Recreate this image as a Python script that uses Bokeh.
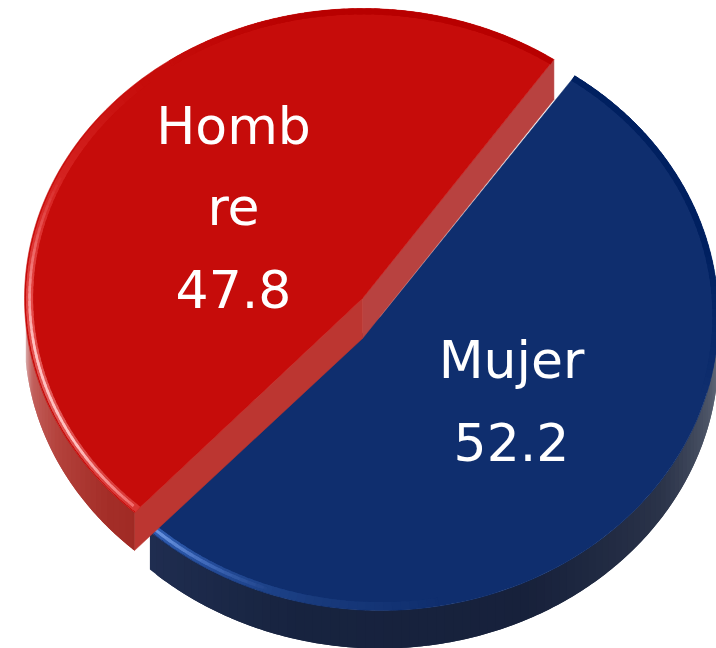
import numpy as np
from bokeh.plotting import figure
from bokeh.models import Range1d
from bokeh.embed import file_html
from bokeh.resources import INLINE
from bokeh.core.properties import value

categories = ["Hombre", "Mujer"]
shares = [47.8, 52.2]
label_lines = [["Homb", "re", "47.8"], ["Mujer", "52.2"]]

RED, BLUE = "#c60c0a", "#0f2e6e"
W, H = 716, 648
p = figure(width=W, height=H, x_range=Range1d(0, W), y_range=Range1d(H, 0),
           toolbar_location=None, output_backend="svg", min_border=0)
p.axis.visible = False
p.grid.visible = False
p.outline_line_color = None

# slice geometry (elliptic, tilted pie)
red_c = (362.0, 298.0)
blue_c = (380.0, 316.0)
RX, RY_R, RY_B = 338.0, 290.0, 294.0
DEPTH = 38.0
start = 55.5
red_t0, red_t1 = start, start + shares[0] * 3.6
blue_t0, blue_t1 = red_t1 - 0.6, red_t1 - 0.6 + shares[1] * 3.6


def arc(c, ry, t0, t1, n=120, k=1.0, dy=0.0):
    t = np.radians(np.linspace(t0, t1, n))
    return c[0] + k * RX * np.cos(t), c[1] - k * ry * np.sin(t) + dy


def mix(stops, t):
    ts = [s[0] for s in stops]
    rgb = [np.interp(t, ts, [int(s[1][i:i + 2], 16) for s in stops]) for i in (1, 3, 5)]
    return "#%02x%02x%02x" % tuple(int(round(v)) for v in rgb)


def side(c, ry, t0, t1, stops, step=1.5):
    xs, ys, cols = [], [], []
    for a in np.arange(t0, t1, step):
        b = min(a + step + 1.5, t1)
        x, y = arc(c, ry, a, b, 6)
        xs.append(list(x) + list(x[::-1]))
        ys.append(list(y) + list((y + DEPTH)[::-1]))
        cols.append(mix(stops, a))
    p.patches(xs, ys, fill_color=cols, line_color=None)


def rim(c, ry, t0, t1, stops, k, width, step=1.5):
    xs, ys, cols = [], [], []
    for a in np.arange(t0, t1, step):
        b = min(a + step + 1.0, t1)
        x, y = arc(c, ry, a, b, 4, k=k)
        xs.append(list(x))
        ys.append(list(y))
        cols.append(mix(stops, a))
    p.multi_line(xs, ys, line_color=cols, line_width=width)


# ---- blue slice
side(blue_c, RY_B, blue_t0, 362.0,
     [(blue_t0, "#1f2d50"), (255, "#17233f"), (295, "#17213b"), (325, "#2a3349"),
      (345, "#4d5567"), (362, "#7a808c")])
x, y = arc(blue_c, RY_B, blue_t0, blue_t1)
p.patch(list(x) + [blue_c[0]], list(y) + [blue_c[1]], fill_color=BLUE, line_color=BLUE, line_width=0.5)
rim(blue_c, RY_B, 345.0, blue_t1, [(345, "#0f2e6e"), (372, "#002060"), (blue_t1, "#002060")], 0.991, 6)
rim(blue_c, RY_B, blue_t0, 280.0, [(blue_t0, "#2f5cb0"), (240, "#234a96"), (258, "#183a7c"), (280, "#0f2e6e")], 0.985, 8)
rim(blue_c, RY_B, blue_t0, 250.0, [(blue_t0, "#6a94e0"), (238, "#3f68b8"), (250, "#1f4288")], 0.985, 3)

# ---- red slice: cut faces and outer side
ax, ay = arc(red_c, RY_R, red_t0, red_t0, 1)
bx, by = arc(red_c, RY_R, red_t1, red_t1, 1)
p.patch([ax[0], ax[0], red_c[0], red_c[0]],
        [ay[0], ay[0] + DEPTH + 2, red_c[1] + DEPTH + 2, red_c[1]],
        fill_color="#b84240", line_color="#b84240", line_width=0.5)
p.patch([red_c[0], red_c[0], bx[0], bx[0]],
        [red_c[1], red_c[1] + DEPTH + 2, by[0] + DEPTH, by[0]],
        fill_color="#bc3631", line_color="#bc3631", line_width=0.5)
side(red_c, RY_R, 185.0, red_t1,
     [(185, "#d8a8a8"), (192, "#c2605c"), (205, "#b4423c"), (220, "#a42e28"), (red_t1, "#a02a24")])

x, y = arc(red_c, RY_R, red_t0, red_t1)
p.patch(list(x) + [red_c[0]], list(y) + [red_c[1]], fill_color=RED, line_color=RED, line_width=0.5)
rim(red_c, RY_R, red_t0, 125.0, [(red_t0, "#b80000"), (100, "#b80000"), (125, "#c60c0a")], 0.99, 6)
rim(red_c, RY_R, 130.0, red_t1, [(130, "#c60c0a"), (160, "#d82826"), (180, "#e44846"), (200, "#e25c5a"), (red_t1, "#d83432")], 0.985, 7)
rim(red_c, RY_R, 155.0, red_t1 - 1, [(155, "#d82826"), (172, "#f07070"), (188, "#ffc0c0"), (210, "#ffc0c0"), (red_t1, "#f06060")], 0.985, 2.5)

# ---- labels
label_pos = [[(233, 125), (233, 206), (233, 288)], [(511, 359), (511, 441)]]
tx, ty, tt = [], [], []
for lines, pos in zip(label_lines, label_pos):
    for s, (a, b) in zip(lines, pos):
        tx.append(a); ty.append(b); tt.append(s)
p.text(tx, ty, text=tt, text_color="white", text_font=value("DejaVu Sans"),
       text_font_size="52px", text_align="center", text_baseline="alphabetic")

open("out.html", "w").write(file_html(p, INLINE))
